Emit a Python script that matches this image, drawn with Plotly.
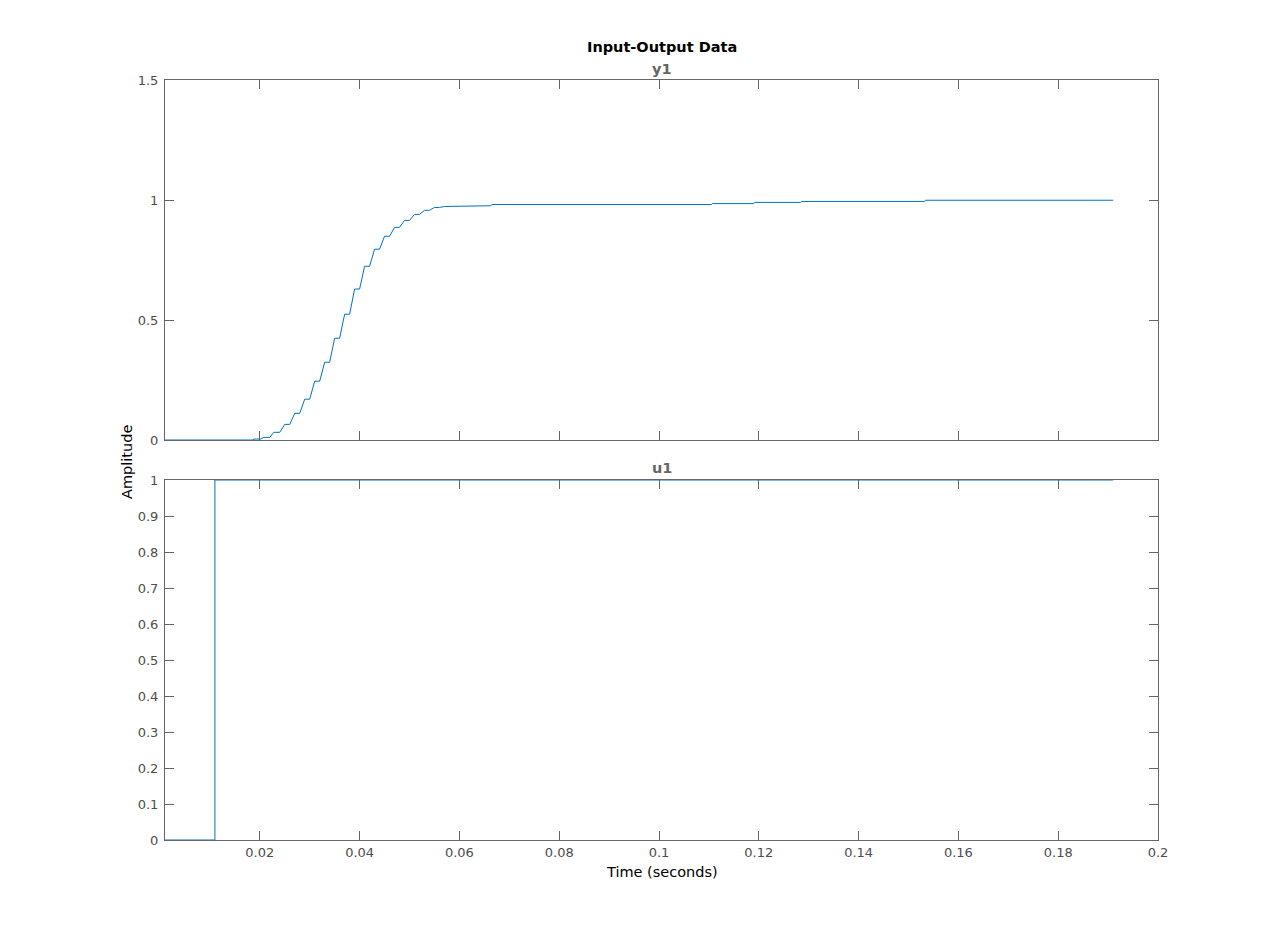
import plotly.graph_objects as go

# ---- data ----
y1_t = [0.001, 0.0187, 0.0188, 0.0202, 0.0208, 0.022, 0.0228, 0.024, 0.025, 0.026,
        0.027, 0.028, 0.029, 0.030, 0.031, 0.032, 0.033, 0.034, 0.035, 0.036,
        0.037, 0.038, 0.039, 0.040, 0.041, 0.042, 0.043, 0.044, 0.045, 0.046,
        0.047, 0.048, 0.049, 0.050, 0.051, 0.052, 0.053, 0.054, 0.055, 0.056,
        0.057, 0.0643, 0.0645, 0.0663, 0.0665, 0.1105, 0.1107, 0.119, 0.1192, 0.1284,
        0.1286, 0.1532, 0.1534, 0.191]
y1_v = [0, 0, 0.004, 0.004, 0.011, 0.011, 0.032, 0.032, 0.065, 0.065,
        0.111, 0.111, 0.17, 0.17, 0.245, 0.245, 0.324, 0.324, 0.424, 0.424,
        0.524, 0.524, 0.629, 0.629, 0.724, 0.724, 0.795, 0.795, 0.849, 0.849,
        0.886, 0.886, 0.915, 0.915, 0.940, 0.940, 0.957, 0.957, 0.969, 0.969,
        0.973, 0.973, 0.976, 0.976, 0.981, 0.981, 0.985, 0.985, 0.990, 0.990,
        0.994, 0.994, 0.999, 0.999]

u1_t = [0.001, 0.011, 0.011, 0.191]
u1_v = [0, 0, 1, 1]

x_ticks = [0.02, 0.04, 0.06, 0.08, 0.1, 0.12, 0.14, 0.16, 0.18, 0.2]
x_ticktext = ["0.02", "0.04", "0.06", "0.08", "0.1", "0.12", "0.14", "0.16", "0.18", "0.2"]
y1_ticks = [0, 0.5, 1, 1.5]
y1_ticktext = ["0", "0.5", "1", "1.5"]
u1_ticks = [0, 0.1, 0.2, 0.3, 0.4, 0.5, 0.6, 0.7, 0.8, 0.9, 1]
u1_ticktext = ["0", "0.1", "0.2", "0.3", "0.4", "0.5", "0.6", "0.7", "0.8", "0.9", "1"]

x_range = [0.001, 0.2]
y1_range = [0, 1.5]
u1_range = [0, 1]

# ---- style ----
FONT = "DejaVu Sans"
LINE_BLUE = "#0072BD"
AX_COLOR = "#666666"
TICK_TXT = "#4d4d4d"

fig = go.Figure()
fig.add_trace(go.Scatter(x=y1_t, y=y1_v, mode="lines", xaxis="x2", yaxis="y2",
                         line=dict(color=LINE_BLUE, width=1), showlegend=False,
                         hoverinfo="skip"))
fig.add_trace(go.Scatter(x=u1_t, y=u1_v, mode="lines", xaxis="x", yaxis="y",
                         line=dict(color=LINE_BLUE, width=1), showlegend=False,
                         hoverinfo="skip"))

common = dict(showline=True, linecolor=AX_COLOR, linewidth=1, mirror="ticks",
              ticks="inside", ticklen=9, tickwidth=1, tickcolor=AX_COLOR,
              showgrid=False, zeroline=False, layer="below traces",
              tickfont=dict(family=FONT, size=13, color=TICK_TXT))

fig.update_layout(
    width=1280, height=945,
    margin=dict(l=157, r=130, t=72, b=113, pad=0),
    paper_bgcolor="white", plot_bgcolor="white",
    xaxis=dict(domain=[0, 1], range=x_range, anchor="y", tickmode="array",
               tickvals=x_ticks, ticktext=x_ticktext, **common),
    xaxis2=dict(domain=[0, 1], range=x_range, anchor="y2", tickmode="array",
                tickvals=x_ticks, showticklabels=False, matches="x", **common),
    yaxis=dict(domain=[0, 360 / 760], range=u1_range, anchor="x", tickmode="array",
               tickvals=u1_ticks, ticktext=u1_ticktext, ticklabelstandoff=3, **common),
    yaxis2=dict(domain=[400 / 760, 1], range=y1_range, anchor="x2", tickmode="array",
                tickvals=y1_ticks, ticktext=y1_ticktext, ticklabelstandoff=3, **common),
    annotations=[
        dict(text="<b>Input-Output Data</b>", x=0.5, y=1 + 33 / 760, xref="paper", yref="paper",
             xanchor="center", yanchor="middle", showarrow=False,
             font=dict(family=FONT, size=14.5, color="black")),
        dict(text="<b>y1</b>", x=0.5, y=1 + 11 / 760, xref="paper", yref="paper",
             xanchor="center", yanchor="middle", showarrow=False,
             font=dict(family=FONT, size=14.5, color="#666666")),
        dict(text="<b>u1</b>", x=0.5, y=(840 - 468) / 760, xref="paper", yref="paper",
             xanchor="center", yanchor="middle", showarrow=False,
             font=dict(family=FONT, size=14.5, color="#666666")),
        dict(text="Amplitude", x=(127 - 165) / 993, y=(840 - 462) / 760, xref="paper", yref="paper",
             xanchor="center", yanchor="middle", showarrow=False, textangle=-90,
             font=dict(family=FONT, size=14.5, color="black")),
        dict(text="Time (seconds)", x=0.5, y=-32 / 760, xref="paper", yref="paper",
             xanchor="center", yanchor="middle", showarrow=False,
             font=dict(family=FONT, size=14.5, color="black")),
    ],
)

fig.write_html("out.html")
